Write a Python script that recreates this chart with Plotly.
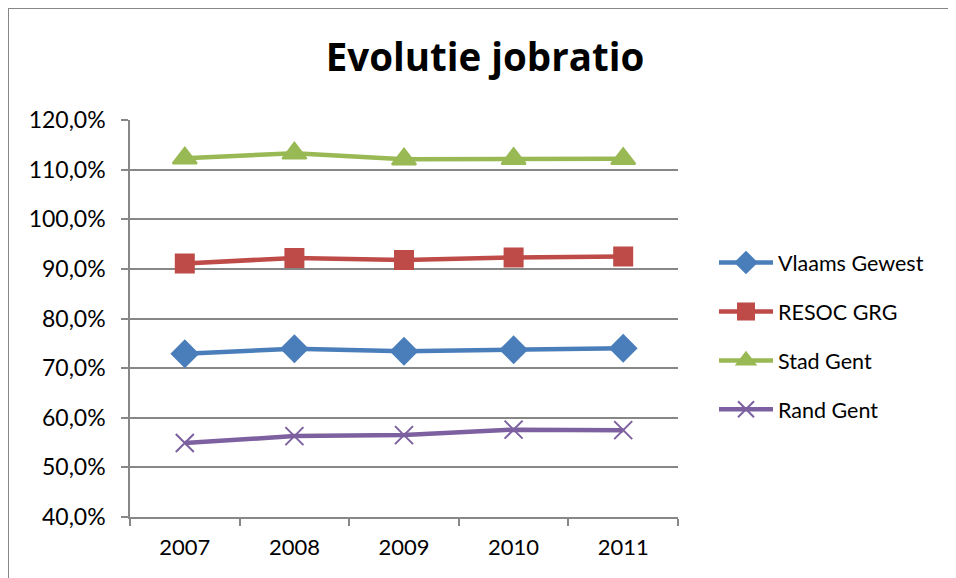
import plotly.graph_objects as go

years = ["2007", "2008", "2009", "2010", "2011"]
vlaams_gewest = [0.729, 0.739, 0.734, 0.737, 0.740]
resoc_grg = [0.911, 0.922, 0.918, 0.923, 0.925]
stad_gent = [1.123, 1.133, 1.121, 1.122, 1.122]
rand_gent = [0.549, 0.563, 0.565, 0.576, 0.575]

series = [
    ("Vlaams Gewest", vlaams_gewest, "#4A7EBB", "diamond", 20),
    ("RESOC GRG", resoc_grg, "#BE4B48", "square", 18),
    ("Stad Gent", stad_gent, "#98B954", "triangle-up", 21),
    ("Rand Gent", rand_gent, "#7D60A0", "x-thin-open", 18),
]

fig = go.Figure()
for i, (name, vals, color, sym, size) in enumerate(series):
    fig.add_trace(go.Scatter(
        x=years, y=vals, name=name, mode="lines+markers",
        line=dict(color=color, width=4.5),
        marker=dict(symbol=sym, size=size, color=color,
                    line=dict(color=color, width=2)),
        legendgroup=f"g{i}",
    ))

# page has an 8px body margin: figure pixel = page pixel - 8
OFF = 8
W, H = 956, 578
L, T = 130 - OFF, 120 - OFF
pw, ph = 548, 397
R, B = W - L - pw, H - T - ph

def px_x(p):
    return (p - OFF - L) / pw

def px_y(p):
    return (T + ph - (p - OFF)) / ph

grid = "#878787"
fig.update_layout(
    width=W, height=H,
    margin=dict(l=L, r=R, t=T, b=B),
    paper_bgcolor="white", plot_bgcolor="white",
    separators=",.",
    font=dict(family="Lato", size=22, color="black"),
    title=dict(text="<b>Evolutie jobratio</b>", x=((327 + 643) / 2 - OFF) / W, xanchor="center",
               y=1 - (58 - OFF) / H, yanchor="middle",
               font=dict(family="Open Sans", size=38.5, color="black")),
    showlegend=True,
    legend=dict(x=px_x(714), xanchor="left", y=px_y(336), yanchor="middle",
                tracegroupgap=18, font=dict(size=21.5), itemwidth=54,
                bgcolor="rgba(0,0,0,0)"),
    xaxis=dict(type="category", showline=True, linecolor=grid, linewidth=1.5,
               ticks="outside", tickson="boundaries", ticklen=7, tickcolor=grid,
               tickwidth=1.5, showgrid=False, ticklabelstandoff=10,
               range=[-0.5, 4.5]),
    yaxis=dict(range=[0.4, 1.2], dtick=0.1, tickformat=".1%", showline=True,
               linecolor=grid, linewidth=1.5, ticks="outside", ticklen=7,
               tickcolor=grid, tickwidth=1.5, showgrid=True, gridcolor=grid,
               gridwidth=1.5, zeroline=False, ticklabelstandoff=11,
               tickfont=dict(size=23)),
    shapes=[
        dict(type="line", xref="paper", yref="paper", x0=px_x(8), x1=px_x(W + 8),
             y0=px_y(8), y1=px_y(8), line=dict(color=grid, width=2)),
        dict(type="line", xref="paper", yref="paper", x0=px_x(8), x1=px_x(8),
             y0=px_y(8), y1=px_y(H + 8), line=dict(color=grid, width=2)),
    ],
)

fig.write_html("out.html")
